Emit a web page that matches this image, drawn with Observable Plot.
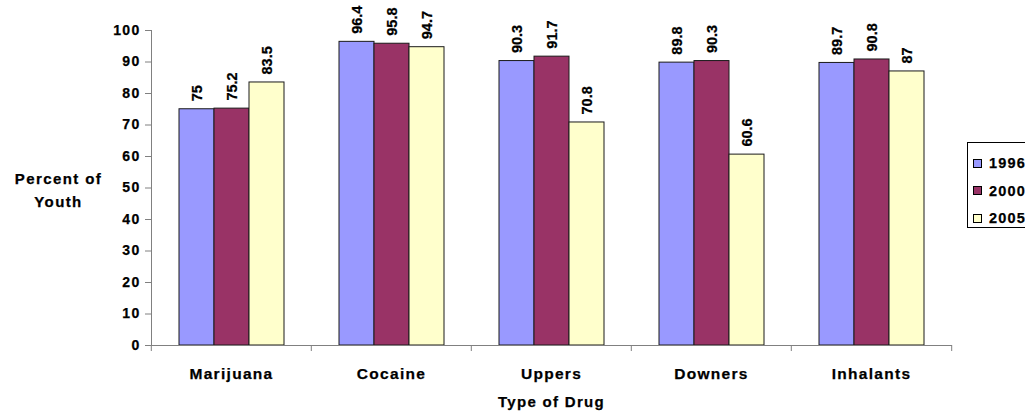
<!DOCTYPE html>
<html>
<head>
<meta charset="utf-8">
<script src="https://cdn.jsdelivr.net/npm/d3@7"></script>
<script src="https://cdn.jsdelivr.net/npm/@observablehq/plot@0.6"></script>
<style>
  html, body { margin: 0; padding: 0; background: #fff; overflow: hidden; }
  #wrap { position: relative; width: 1025px; height: 417px; overflow: hidden; }
  #wrap svg text { stroke: #000; stroke-width: 0.25px; }
  #wrap svg g[aria-label="y-axis tick label"] text { letter-spacing: 1.3px; }
  #wrap svg g[aria-label="fx-axis tick label"] text { letter-spacing: 1.3px; }
  #legend { position: absolute; left: 967px; top: 142px; width: 90px; height: 86px;
    border: 1px solid #000; background: #fff; box-sizing: border-box;
    font-family: "Liberation Sans", Arial, sans-serif; font-weight: bold; font-size: 14.5px; letter-spacing: 1.2px;
    -webkit-text-stroke: 0.25px #000; }
  .row { position: absolute; left: 5px; height: 16px; display: flex; align-items: center; }
  .sw { width: 7px; height: 7px; border: 1px solid #000; margin-right: 7px; }
</style>
</head>
<body>
<div id="wrap"></div>
<script>
const categories = ["Marijuana", "Cocaine", "Uppers", "Downers", "Inhalants"];
const years = ["1996", "2000", "2005"];
const values1996 = [75, 96.4, 90.3, 89.8, 89.7];
const values2000 = [75.2, 95.8, 91.7, 90.3, 90.8];
const values2005 = [83.5, 94.7, 70.8, 60.6, 87];
const colors = ["#9999FF", "#993366", "#FFFFCC"];
const yTicks = [0, 10, 20, 30, 40, 50, 60, 70, 80, 90, 100];
const yLabel = "Percent of\nYouth";
const xLabel = "Type of Drug";

const series = [values1996, values2000, values2005];
const data = [];
categories.forEach((c, i) => years.forEach((y, j) => data.push({drug: c, year: y, value: series[j][i]})));

const W = 1025, H = 417, mL = 150, mR = 73, mT = 30, mB = 72;
const step = (W - mL - mR) / categories.length;
const font = "'Liberation Sans', Arial, sans-serif";

const chart = Plot.plot({
  width: W, height: H,
  marginLeft: mL, marginRight: mR, marginTop: mT, marginBottom: mB,
  style: {fontFamily: font, fontWeight: "bold", fontSize: "14px", color: "#000", background: "transparent", overflow: "visible"},
  fx: {domain: categories, padding: 0, label: null},
  x: {domain: years, paddingInner: 0, paddingOuter: 0.766, axis: null},
  y: {domain: [0, 100], label: null},
  color: {domain: years, range: colors},
  marks: [
    Plot.axisY({ticks: yTicks, tickSize: 6, tickPadding: 5, stroke: "#808080", fill: "#000", label: null, fontSize: 14}),
    Plot.axisFx({anchor: "bottom", tickSize: 6, dx: -step / 2, tickFormat: () => "", stroke: "#808080", label: null}),
    Plot.axisFx({anchor: "bottom", ticks: [categories[categories.length - 1]], tickSize: 6, dx: step / 2, tickFormat: () => "", stroke: "#808080", label: null}),
    Plot.axisFx({anchor: "bottom", tickSize: 0, tickPadding: 22, fill: "#000", label: null, fontSize: 15.5}),
    Plot.barY(data, {fx: "drug", x: "year", y: "value", fill: "year", stroke: "#1a1a1a", strokeWidth: 1}),
    Plot.frame({anchor: "left", facet: "super", stroke: "#808080"}),
    Plot.frame({anchor: "bottom", facet: "super", stroke: "#808080"}),
    Plot.text(data, {fx: "drug", x: "year", y: "value", text: d => String(d.value), rotate: -90, textAnchor: "start", dy: -8, fontSize: 14.5, fontWeight: "bold", fill: "#000"}),
    Plot.text([yLabel], {facet: "super", frameAnchor: "left", dx: -93, textAnchor: "middle", lineHeight: 1.55, fill: "#000", fontSize: 15}),
    Plot.text([xLabel], {facet: "super", frameAnchor: "bottom", dy: 61, textAnchor: "middle", fill: "#000", fontSize: 15})
  ]
});

const wrap = document.getElementById("wrap");
wrap.appendChild(chart);

// letter spacing: value labels tight, axis titles widened like the original rendering
const textGroups = chart.querySelectorAll('g[aria-label="text"]');
if (textGroups.length >= 3) {
  textGroups[0].style.letterSpacing = "0px";
  textGroups[1].style.letterSpacing = "1.4px";
  textGroups[2].style.letterSpacing = "1.3px";
}

const legend = d3.select(wrap).append("div").attr("id", "legend");
years.forEach((y, i) => {
  const row = legend.append("div").attr("class", "row").style("top", (12 + i * 27.5) + "px");
  row.append("div").attr("class", "sw").style("background", colors[i]);
  row.append("span").text(y);
});
</script>
</body>
</html>
